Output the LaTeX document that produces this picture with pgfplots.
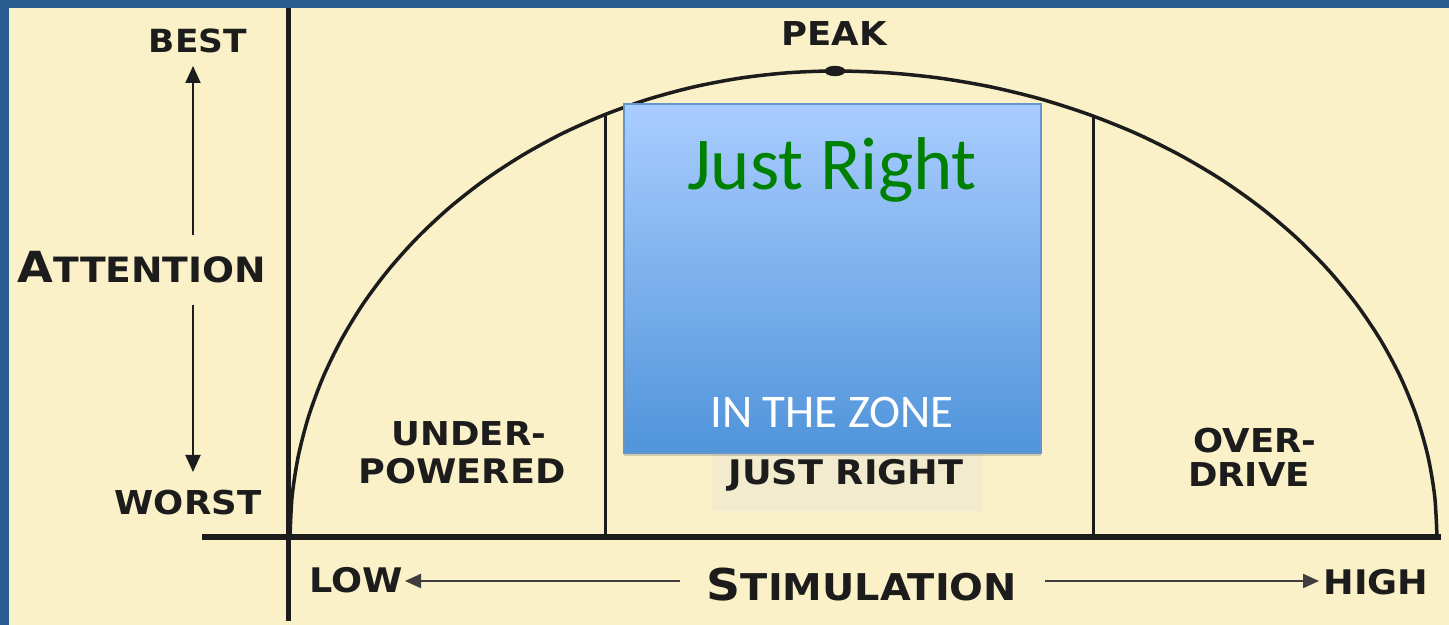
\documentclass[border=0pt]{standalone}
\usepackage{pgfplots}
\pgfplotsset{compat=1.18}
\usepackage{fontspec}
\setmainfont{Carlito}
\newfontfamily\cop[FakeStretch=1.08]{DejaVu Sans}
\usetikzlibrary{shadows,arrows.meta}
\definecolor{cream}{RGB}{250,241,200}
\definecolor{frame}{RGB}{42,92,143}
\definecolor{ink}{RGB}{28,28,28}
\definecolor{boxtop}{RGB}{170,205,255}
\definecolor{boxbot}{RGB}{80,148,218}
\definecolor{boxedge}{RGB}{100,150,205}
\definecolor{jrback}{RGB}{243,235,206}
\newcommand{\cf}[1]{\fontsize{#1}{#1}\selectfont}
\begin{document}
\begin{tikzpicture}
\begin{axis}[
  x=1bp, y=1bp,
  xmin=0, xmax=1449, ymin=0, ymax=625,
  hide axis, clip=false, enlargelimits=false,
]
% background
\fill[frame] (axis cs:0,0) rectangle (axis cs:1449,625);
\fill[cream] (axis cs:9,0) rectangle (axis cs:1449,617);
% faint patch behind JUST RIGHT
\fill[jrback] (axis cs:712,114) rectangle (axis cs:982,176);

% axes
\addplot[ink, line width=5bp, forget plot] coordinates {(288,4) (288,617)};
\addplot[ink, line width=6bp, forget plot] coordinates {(202,88) (1441,88)};

% attention curve (two quarter ellipses)
\addplot[ink, line width=3.5bp, smooth, forget plot] coordinates {
(290,88) (292.1,128.6) (298.3,168.9) (308.6,208.6) (322.9,247.4) (341.1,284.9)
(363.0,321.0) (388.6,355.3) (417.5,387.5) (449.6,417.5) (484.7,445.0) (522.4,469.7)
(562.5,491.6) (604.7,510.3) (648.6,525.9) (693.9,538.1) (740.4,546.9) (787.5,552.2)
(835,554) (887.5,552.2) (939.5,546.9) (990.8,538.1) (1040.9,525.9) (1089.4,510.3)
(1136,491.6) (1180.3,469.7) (1222,445.0) (1260.7,417.5) (1296.2,387.5) (1328.1,355.3)
(1356.3,321.0) (1380.6,284.9) (1400.7,247.4) (1416.5,208.6) (1427.9,168.9) (1434.7,128.6)
(1437,88)};

% zone dividers
\addplot[ink, line width=3bp, forget plot] coordinates {(605,88) (605,510)};
\addplot[ink, line width=3bp, forget plot] coordinates {(1093,88) (1093,509)};

% peak dot
\addplot[ink, only marks, mark=*, mark size=5bp, mark options={xscale=2}, forget plot] coordinates {(835,554)};

% vertical attention arrows
\addplot[ink, line width=2bp, -{Triangle[length=17bp,width=15bp]}, forget plot] coordinates {(193,390) (193,559)};
\addplot[ink, line width=2bp, -{Triangle[length=17bp,width=15bp]}, forget plot] coordinates {(193,320) (193,153)};

% stimulation arrows
\addplot[ink!85, line width=2.2bp, -{Triangle[length=16bp,width=14bp]}, forget plot] coordinates {(680,44) (405,44)};
\addplot[ink!85, line width=2.2bp, -{Triangle[length=16bp,width=14bp]}, forget plot] coordinates {(1045,44) (1319,44)};

% labels
\node[ink, anchor=base] at (axis cs:198,572) {\cop\bfseries\cf{32}BEST};
\node[ink, anchor=base] at (axis cs:142,342) {\cop\bfseries{\cf{43}A}\cf{35}TTENTION};
\node[ink, anchor=base] at (axis cs:188,110) {\cop\bfseries\cf{33}WORST};
\node[ink, anchor=base] at (axis cs:834,579) {\cop\bfseries\cf{33}PEAK};
\node[ink, anchor=base] at (axis cs:469,179) {\cop\bfseries\cf{33}UNDER-};
\node[ink, anchor=base] at (axis cs:462,141) {\cop\bfseries\cf{34}POWERED};
\node[ink, anchor=base] at (axis cs:846,140) {\cop\bfseries\cf{34}JUST RIGHT};
\node[ink, anchor=base] at (axis cs:1255,172) {\cop\bfseries\cf{33}OVER-};
\node[ink, anchor=base] at (axis cs:1249,138) {\cop\bfseries\cf{33}DRIVE};
\node[ink, anchor=base] at (axis cs:356,32) {\cop\bfseries\cf{34}LOW};
\node[ink, anchor=base] at (axis cs:862,24) {\cop\bfseries{\cf{44}S}\cf{37}TIMULATION};
\node[ink, anchor=base] at (axis cs:1376,30) {\cop\bfseries\cf{34}HIGH};

% overlay box
\draw[boxedge, line width=1.5bp, top color=boxtop, bottom color=boxbot,
      drop shadow={shadow xshift=0bp, shadow yshift=-3bp, opacity=0.35}]
  (axis cs:624,172) rectangle (axis cs:1041,521);
\node[anchor=base, text={rgb,255:red,0;green,128;blue,0}] at (axis cs:832,435) {\cf{75}Just Right};
\node[anchor=base, text=white] at (axis cs:832,197) {\cf{47}IN THE ZONE};
\end{axis}
\end{tikzpicture}
\end{document}
